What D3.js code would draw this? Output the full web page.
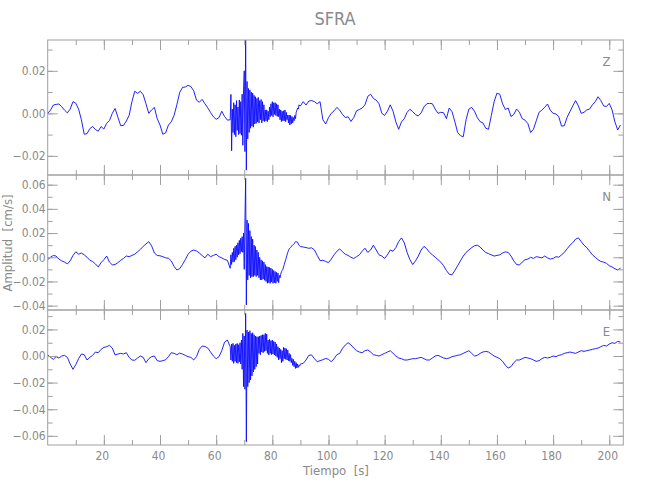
<!DOCTYPE html>
<html><head><meta charset="utf-8">
<script src="https://cdn.jsdelivr.net/npm/d3@7"></script>
<style>
body{margin:0;background:#fff;}
svg text{font-family:"Liberation Sans Narrow","DejaVu Sans Condensed","Liberation Sans",sans-serif;fill:#8a8a8a;}
</style></head><body>
<svg id="c" width="650" height="500"></svg>
<script>
// Amplitudes in µm/s (1 µm/s = 0.0001 cm/s). Time in s.
const title = "SFRA";
const xLabel = "Tiempo\u00a0\u00a0[s]";
const yLabel = "Amplitud\u00a0\u00a0[cm/s]";
const channels = ["Z", "N", "E"];
const xTicksMajor = [20, 40, 60, 80, 100, 120, 140, 160, 180, 200];
const preStart = 0, preStep = 1;
const eventStart = 65, eventStep = 0.25;
const postStart = 90, postStep = 1;

const zPre = [0,15,39,42,44,31,15,2,20,55,48,20,-30,-98,-96,-72,-62,-76,-84,-62,-74,-47,-34,0,23,-18,-58,-57,-36,-10,55,104,94,104,88,45,0,16,28,-25,-55,-98,-92,-55,-40,-10,40,98,122,124,132,126,106,62,52,66,45,26,4,-16,-28,-20,10,-15,-32];
const zEvent = [-30,89,-176,20, -90,50,-100,40, -110,60,-80,30, -100,63,-95,55, -103,90,-150,110,
  200,-180,345,-267, 150,-120,117,-90, 110,-70,100,-60, 95,-65,85,-50, 78,-47,70,-40,
  75,-45,60,-30, 65,-45,55,-35, 40,-39,16,-35, 16,-39,10,-30, 30,-16,45,-10,
  55,-16,50,-5, 50,-10,45,-14, 40,-16,20,-30, 16,-39,10,-35, 12,-35,16,-39,
  5,-30,-8,-45, -8,-55,-10,-50, -15,-45,-20,-35, -10,-25,5,15, 25,20,40,35];
const zPost = [35,55,39,58,60,55,45,55,-30,-50,-20,0,12,28,15,-5,-20,-16,-38,-20,12,18,25,40,80,90,70,62,45,0,-10,10,40,10,-40,-75,-40,-25,5,19,8,-6,-12,2,30,45,47,45,20,0,5,3,-25,25,8,-39,-90,-105,-110,-30,20,28,10,-20,-39,-45,-70,-75,-10,55,95,90,45,18,25,-15,-5,20,5,-25,-32,-48,-90,-75,-35,5,15,28,44,15,0,-3,-15,-60,-58,-18,8,35,60,35,0,5,16,20,40,55,78,60,35,32,47,16,-40,-78,-55];

const nPre = [-20,0,15,10,-15,-30,-40,-55,-30,15,45,25,35,20,0,-25,-35,-55,-80,-45,-20,10,-40,-63,-60,-45,-25,-10,10,5,15,25,45,65,90,110,129,95,35,15,12,5,-5,-8,-30,-75,-105,-95,-60,-20,25,50,60,52,35,15,-5,25,5,15,25,5,-5,-18,-25];
const nEvent = [-91,20,-60,40, -40,74,-36,90, -20,100,0,120, 20,140,30,157, 47,170,40,200,
  -100,300,653,-394, 308,-187,280,-150, 220,-170,171,-160, 150,-160,100,-150, 88,-160,60,-150,
  40,-170,0,-187, -22,-187,-30,-180, -40,-190,-60,-200, -77,-215,-80,-210, -85,-215,-90,-205,
  -100,-215,-110,-210, -118,-215,-125,-200, -130,-210,-150,-170, -140,-120,-110,-100, -80,-60,-40,-20,
  0,20,40,55, 70,74,80,90, 95,102,105,110, 120,129,125,129, 125,110,100,95];
const nPost = [88,85,80,74,78,61,15,-28,-25,-35,-44,-15,20,50,69,45,25,15,0,-10,5,20,50,75,40,60,100,60,20,10,-10,20,60,50,80,130,160,120,40,-20,-60,-30,10,60,90,70,40,20,0,-20,-40,-70,-110,-140,-145,-110,-70,-30,10,40,60,80,95,100,85,60,40,30,20,10,15,20,35,45,40,10,-30,-60,-64,-40,-20,-15,0,-10,5,0,-5,10,-5,-15,-10,5,0,20,40,70,100,120,150,160,130,100,80,50,20,0,-20,-35,-40,-50,-70,-80,-95,-105,-90];

const ePre = [8,-10,-25,-5,-15,0,5,-10,-60,-100,-65,-20,15,10,-30,-10,5,30,25,50,65,70,80,60,8,15,20,15,25,-10,-30,-32,-15,0,-10,-50,-20,-5,0,-35,-40,-35,-28,-5,25,20,10,22,15,5,-5,-10,-30,-5,50,75,72,60,30,0,-20,-5,40,105,120];
const eEvent = [70,-30,90,-40, 95,-55,80,-40, 90,-50,95,-55, 85,-45,100,-60, 120,-100,170,-230,
  150,-250,321,-644, 195,-230,180,-200, 190,-180,170,-150, 175,-120,160,-100, 150,-80,145,-60,
  145,20,150,10, 155,30,160,25, 160,35,170,40, 165,20,120,8, 125,20,115,10,
  120,15,110,8, 105,0,90,-10, 70,-30,60,-20, 50,-50,40,-40, 65,-20,60,-25,
  55,-30,45,-35, 20,-40,10,-50, -18,-70,-25,-80, -40,-93,-50,-90, -60,-85,-70,-75];
const ePost = [-60,-55,-30,5,8,-20,-43,-35,-28,-18,-25,-43,-20,10,20,58,83,100,83,60,40,30,25,40,45,30,10,5,0,10,20,30,40,20,0,-15,-20,-30,-30,-25,-20,-20,-15,-10,-20,-30,-30,-15,0,5,-5,-15,-20,-15,-5,0,5,10,20,30,40,20,0,5,20,30,35,30,15,0,-10,-20,-40,-70,-90,-80,-50,-30,-30,-20,-10,-15,-20,-30,-40,-35,-20,-10,-15,-10,0,-5,5,10,20,25,30,25,20,30,40,35,40,45,50,55,60,70,80,75,90,100,95,110,105];

const seriesData = {Z:[zPre,zEvent,zPost], N:[nPre,nEvent,nPost], E:[ePre,eEvent,ePost]};

function build([pre, ev, post]) {
  const pts = [];
  pre.forEach((v,i)=>pts.push([preStart+i*preStep, v/1e4]));
  ev.forEach((v,i)=>pts.push([eventStart+i*eventStep, v/1e4]));
  post.forEach((v,i)=>pts.push([postStart+i*postStep, v/1e4]));
  return pts;
}

const panels = [
  {ch:"Z", top:40,  bottom:175, dom:[-0.0290,0.0345], major:[-0.02,0,0.02], minor:[-0.02,-0.01,0,0.01,0.02,0.03]},
  {ch:"N", top:175, bottom:310, dom:[-0.0436,0.0680], major:[-0.04,-0.02,0,0.02,0.04,0.06], minor:[-0.04,-0.03,-0.02,-0.01,0,0.01,0.02,0.03,0.04,0.05,0.06]},
  {ch:"E", top:310, bottom:445, dom:[-0.0669,0.0346], major:[-0.06,-0.04,-0.02,0,0.02], minor:[-0.06,-0.05,-0.04,-0.03,-0.02,-0.01,0,0.01,0.02,0.03]}
];
const L = 47.7, R = 623.3;
const x = d3.scaleLinear().domain([0,205]).range([L,R]);
const xMinor = d3.range(10,205,10);
const svg = d3.select("#c");
const axisColor = "#a0a0a0";
const fmt = d => (d < -1e-9 ? "\u2212" : "") + Math.abs(d).toFixed(2);

panels.forEach((p,pi) => {
  const y = d3.scaleLinear().domain(p.dom).range([p.bottom,p.top]);
  const id = "clip"+pi;
  svg.append("clipPath").attr("id",id).append("rect")
    .attr("x",L).attr("y",p.top).attr("width",R-L).attr("height",p.bottom-p.top);
  const pts = build(seriesData[p.ch]);
  svg.append("path").datum(pts)
    .attr("clip-path",`url(#${id})`)
    .attr("fill","none").attr("stroke","#0a0aff").attr("stroke-width",0.9)
    .attr("d", d3.line().x(d=>x(d[0])).y(d=>y(d[1])));

  const g = svg.append("g");
  const style = sel => { sel.select(".domain").remove(); sel.selectAll("line").attr("stroke",axisColor); sel.selectAll("text").attr("fill","#8a8a8a").style("font-size","12px"); };
  g.append("g").attr("transform",`translate(${L},0)`)
    .call(d3.axisLeft(y).tickValues(p.minor).tickSize(-5).tickFormat(""))
    .call(style);
  g.append("g").attr("transform",`translate(${L},0)`)
    .call(d3.axisLeft(y).tickValues(p.major).tickSize(-10).tickPadding(2).tickFormat(fmt))
    .call(style);
  g.append("g").attr("transform",`translate(${R},0)`)
    .call(d3.axisRight(y).tickValues(p.minor).tickSize(-5).tickFormat(""))
    .call(style);
  g.append("g").attr("transform",`translate(${R},0)`)
    .call(d3.axisRight(y).tickValues(p.major).tickSize(-10).tickFormat(""))
    .call(style);
  g.append("g").attr("transform",`translate(0,${p.top})`)
    .call(d3.axisTop(x).tickValues(xMinor).tickSize(-5).tickFormat(""))
    .call(style);
  g.append("g").attr("transform",`translate(0,${p.bottom})`)
    .call(d3.axisBottom(x).tickValues(xMinor).tickSize(-5).tickFormat(""))
    .call(style);
  const xb = g.append("g").attr("transform",`translate(0,${p.bottom})`)
    .call(d3.axisBottom(x).tickValues(xTicksMajor).tickSize(-10).tickPadding(6)
      .tickFormat(pi===panels.length-1 ? d3.format("d") : ""))
    .call(style);
  xb.selectAll("text").attr("dx",-2);
  g.append("g").attr("transform",`translate(0,${p.top})`)
    .call(d3.axisTop(x).tickValues(xTicksMajor).tickSize(-10).tickFormat(""))
    .call(style);
  svg.append("rect").attr("x",L).attr("y",p.top).attr("width",R-L).attr("height",p.bottom-p.top)
    .attr("fill","none").attr("stroke",axisColor).attr("stroke-width",1);
  svg.append("text").attr("x",606.5).attr("y",p.top+26).attr("text-anchor","middle")
    .style("font-size","13px").text(p.ch);
});

svg.append("text").attr("x",335).attr("y",25).attr("text-anchor","middle").style("font-size","18px").text(title);
svg.append("text").attr("x",336).attr("y",475).attr("text-anchor","middle").style("font-size","13px").text(xLabel);
svg.append("text").attr("transform","translate(12,243) rotate(-90)").attr("text-anchor","middle").style("font-size","13px").text(yLabel);
</script></body></html>
